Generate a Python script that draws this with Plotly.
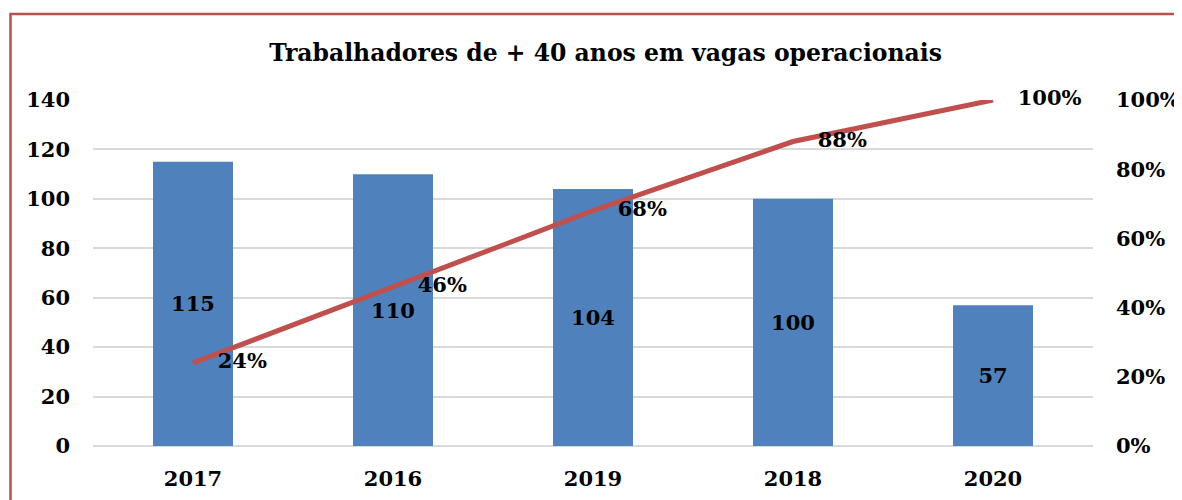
import plotly.graph_objects as go

categories = ["2017", "2016", "2019", "2018", "2020"]
workers = [115, 110, 104, 100, 57]
cumulative_pct = [0.24, 0.46, 0.68, 0.88, 1.00]
pct_labels = ["24%", "46%", "68%", "88%", "100%"]
title_text = "Trabalhadores de + 40 anos em vagas operacionais"

FONT = "DejaVu Serif"

fig = go.Figure()
fig.add_trace(go.Bar(
    x=categories, y=workers, width=0.4,
    marker=dict(color="#4F81BD", line=dict(width=0)),
    text=[str(v) for v in workers], textposition="inside",
    insidetextanchor="middle",
    textfont=dict(family=FONT, size=21, color="black", weight="bold"),
    showlegend=False, hoverinfo="skip",
))
fig.add_trace(go.Scatter(
    x=categories, y=cumulative_pct, yaxis="y2", mode="lines+markers+text",
    line=dict(color="#C0504D", width=5),
    marker=dict(size=38, color="rgba(0,0,0,0)", line=dict(width=0)),
    text=pct_labels, textposition="middle right",
    textfont=dict(family=FONT, size=21, color="black", weight="bold"),
    showlegend=False, hoverinfo="skip", cliponaxis=False,
))

fig.update_layout(
    width=1174, height=492,
    margin=dict(l=85, r=89, t=92, b=54, autoexpand=False),
    paper_bgcolor="white", plot_bgcolor="white",
    title=dict(text=title_text, x=0.509, xanchor="center", y=0.91, yanchor="middle",
               font=dict(family=FONT, size=23.5, color="black", weight="bold"),
               automargin=False),
    xaxis=dict(showgrid=False, showline=False, ticks="", automargin=False,
               tickfont=dict(family=FONT, size=21, color="black", weight="bold"),
               ticklabelstandoff=18),
    yaxis=dict(range=[0, 140], dtick=20, showgrid=True, gridcolor="#D9D9D9", gridwidth=1.5,
               zeroline=True, zerolinecolor="#D9D9D9", zerolinewidth=1.5,
               showline=False, ticks="", automargin=False,
               tickfont=dict(family=FONT, size=21, color="black", weight="bold"),
               ticklabelstandoff=22),
    yaxis2=dict(range=[0, 1], dtick=0.2, tickformat=".0%", overlaying="y", side="right",
                showgrid=False, zeroline=False, showline=False, ticks="", automargin=False,
                tickfont=dict(family=FONT, size=21, color="black", weight="bold"),
                ticklabelstandoff=22),
    shapes=[dict(type="rect", xref="paper", yref="paper", x0=-0.0825, x1=1.2, y0=-0.3, y1=1.2485,
                 line=dict(color="#B5514E", width=2.5), fillcolor="rgba(0,0,0,0)", layer="below")],
)

fig.write_html("out.html")
